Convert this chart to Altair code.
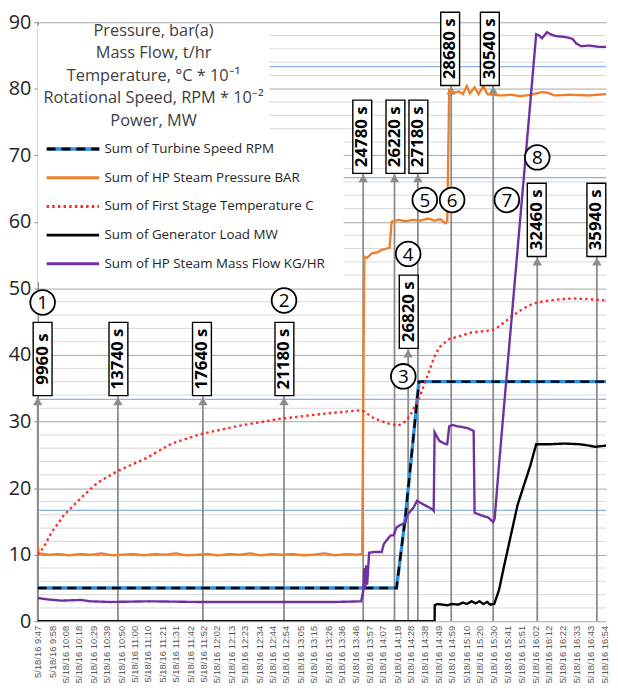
import altair as alt
import pandas as pd

# ---------------- values ----------------
x_labels = [
    "5/18/16 9:47", "5/18/16 9:58", "5/18/16 10:08", "5/18/16 10:18", "5/18/16 10:29",
    "5/18/16 10:39", "5/18/16 10:50", "5/18/16 11:00", "5/18/16 11:10", "5/18/16 11:21",
    "5/18/16 11:31", "5/18/16 11:42", "5/18/16 11:52", "5/18/16 12:02", "5/18/16 12:13",
    "5/18/16 12:23", "5/18/16 12:34", "5/18/16 12:44", "5/18/16 12:54", "5/18/16 13:05",
    "5/18/16 13:15", "5/18/16 13:26", "5/18/16 13:36", "5/18/16 13:46", "5/18/16 13:57",
    "5/18/16 14:07", "5/18/16 14:18", "5/18/16 14:28", "5/18/16 14:38", "5/18/16 14:49",
    "5/18/16 14:59", "5/18/16 15:10", "5/18/16 15:20", "5/18/16 15:30", "5/18/16 15:41",
    "5/18/16 15:51", "5/18/16 16:02", "5/18/16 16:12", "5/18/16 16:22", "5/18/16 16:33",
    "5/18/16 16:43", "5/18/16 16:54",
]
y_ticks = [0, 10, 20, 30, 40, 50, 60, 70, 80, 90]
title_lines = ["Pressure, bar(a)", "Mass Flow, t/hr", "Temperature, °C * 10⁻¹",
               "Rotational Speed, RPM * 10⁻²", "Power, MW"]

series_names = ["Sum of Turbine Speed RPM", "Sum of HP Steam Pressure BAR",
                "Sum of First Stage Temperature C", "Sum of Generator Load MW",
                "Sum of HP Steam Mass Flow KG/HR"]
series_colors = ["#000000", "#F07F2A", "#FF2B2B", "#000000", "#7030A0"]
series_dash = [[9, 6], [1, 0], [2.5, 3.2], [1, 0], [1, 0]]

# x = minutes after 9:47
ts_m = [0, 270.2, 276.8, 287.1, 428]
ts_v = [5.0, 5.0, 15.5, 36.0, 36.0]

pr_m = [0, 0.7, 8, 16, 24, 32, 40, 48, 56, 64, 72, 80, 88, 96, 104, 112, 120, 128, 136, 144,
        152, 160, 168, 176, 184, 192, 200, 208, 216, 224, 232, 240, 244.4,
        245.9, 248.1, 251.7, 255.4, 259.1, 262.8, 265.0, 266.5, 271.6, 276.8, 282.7, 288.5,
        293.7, 298.9, 303.3, 307.0, 308.4,
        309.9, 313.6, 317.3, 320.2, 323.2, 325.4, 329.0, 332.0, 335.7, 338.6, 343.0, 348.9,
        356.3, 363.6, 371.0, 379.8, 384.2, 389.4, 400.4, 415.2, 428]
pr_v = [11.5,
        10.2, 10.0, 10.1, 9.9, 10.1, 10.0, 10.2, 9.9,
        10.0, 10.1, 9.9, 10.1, 10.0, 10.2, 9.9, 10.0,
        10.1, 9.9, 10.1, 10.0, 10.2, 9.9, 10.1, 10.0,
        10.1, 9.9, 10.0, 10.2, 9.9, 10.1, 10.0, 10.1,
        54.8, 54.6, 55.3, 55.4, 55.8, 56.0, 56.1, 60.0, 60.3, 60.1, 60.3, 60.2,
        60.5, 60.2, 60.4, 59.8, 60.0,
        79.8, 79.4, 79.6, 79.2, 80.4, 79.3, 80.2, 79.2, 80.4, 79.2, 79.1, 79.0,
        79.1, 78.9, 79.1, 79.5, 79.4, 79.0, 79.1, 79.0, 79.2]

te_m = [0, 4.4, 10.3, 19.9, 32.4, 44.9, 60.4, 81.7, 100.8, 124.4,
        152.4, 181.8, 216.4, 242.9, 245.9, 253.2, 264.3, 271.6, 276.8, 280.5,
        284.1, 287.8, 291.5, 295.2, 298.9, 302.5, 309.9, 317.3, 326.8, 341.6,
        346.0, 351.1, 357.7, 363.6, 369.5, 376.2, 389.4, 402.7, 415.2, 428]
te_v = [10.0, 11.1, 13.3, 16.0, 18.5, 20.8, 22.6, 24.5, 26.7, 28.2,
        29.4, 30.4, 31.2, 31.7, 31.5, 30.5, 29.7, 29.4, 30.0, 30.9,
        32.3, 33.8, 35.8, 37.8, 39.8, 41.2, 42.4, 42.8, 43.4, 43.7,
        44.1, 44.9, 45.9, 46.7, 47.4, 47.9, 48.3, 48.5, 48.4, 48.2]

gl_m = [0, 298.9, 299.0, 301.1, 304.8, 308.4, 312.1, 316.5, 320.2, 323.2,
        326.8, 329.8, 332.7, 335.7, 338.6, 340.8, 343.8, 347.4, 351.1, 361.4,
        371.0, 375.4, 385.7, 396.8, 407.8, 415.2, 419.6, 428]
gl_v = [0.0, 0.0, 2.4, 2.6, 2.5, 2.4, 2.6, 2.5, 2.8, 2.6,
        3.0, 2.7, 3.0, 2.6, 2.9, 2.5, 2.6, 4.7, 8.2, 17.5,
        23.4, 26.6, 26.6, 26.7, 26.6, 26.4, 26.2, 26.4]

mf_m = [0, 6.6, 17.7, 32.4, 39.8, 54.5, 83.9, 120.7, 157.5, 194.3,
        223.8, 243.6, 245.1, 245.9, 246.6, 247.4, 248.1, 249.6, 253.2, 259.1,
        260.6, 265.7, 268.0, 270.2, 272.5, 276.8, 278.2, 279.7, 282.7, 284.1,
        285.6, 297.4, 298.2, 298.9, 302.5, 306.2, 308.4, 309.9, 312.1, 315.8,
        319.5, 323.9, 328.3, 329.0, 334.2, 339.3, 343.0, 344.1, 347.4, 355.5,
        363.6, 371.0, 375.4, 377.6, 379.8, 383.5, 387.2, 390.9, 396.8, 402.7,
        405.6, 409.3, 415.2, 422.5, 428]
mf_v = [3.5, 3.3, 3.1, 3.2, 3.0, 2.9, 3.0, 2.9, 2.9, 2.9,
        2.9, 3.0, 4.5, 8.0, 4.8, 8.4, 5.5, 10.3, 10.4, 10.4,
        11.6, 12.9, 12.9, 14.1, 14.4, 14.8, 15.9, 16.3, 17.0, 17.5,
        18.1, 16.8, 16.6, 28.4, 27.1, 26.7, 26.6, 29.3, 29.5, 29.3,
        29.2, 29.0, 28.6, 16.3, 15.9, 15.6, 14.9, 15.4, 23.5, 42.3,
        61.0, 78.0, 88.2, 88.0, 87.6, 88.5, 88.1, 87.9, 87.8, 87.5,
        86.8, 86.4, 86.5, 86.3, 86.3]

# reference lines (blue) and callouts
ref_lines = [16.67, 33.33, 66.67, 83.33]
ann_labels = ["9960 s", "13740 s", "17640 s", "21180 s", "24780 s", "26220 s",
              "26820 s", "27180 s", "28680 s", "30540 s", "32460 s", "35940 s"]
ann_arrow_m = [0, 60.4, 124.4, 185.5, 245.1, 268.7, 279.0, 286.3, 311.4, 343.0, 376.2, 421.1]
ann_box_m = [3.7, 60.8, 123.7, 185.8, 244.4, 269.4, 279.4, 286.7, 310.6, 340.5, 375.8, 420.7]
ann_box_v = [39.4, 39.4, 39.4, 39.4, 72.8, 72.8, 46.5, 72.8, 86.0, 86.0, 60.3, 60.3]
ann_tip_v = [33.8, 33.8, 33.8, 33.8, 67.3, 67.3, 41.0, 67.3, 80.5, 80.5, 54.8, 54.8]

circle_num = ["1", "2", "3", "4", "5", "6", "7", "8"]
circle_m = [3.7, 185.5, 275.3, 279.0, 291.5, 312.1, 353.3, 376.2]
circle_v = [47.9, 48.2, 36.8, 55.2, 63.3, 63.3, 63.3, 69.7]

# ---------------- tables ----------------
def to_min(lbl):
    hh, mm = lbl.split(" ")[1].split(":")
    return int(hh) * 60 + int(mm) - (9 * 60 + 47)

tick_min = [to_min(l) for l in x_labels]

frames = []
for name, ms, vs in zip(series_names, [ts_m, pr_m, te_m, gl_m, mf_m],
                        [ts_v, pr_v, te_v, gl_v, mf_v]):
    frames.append(pd.DataFrame({"series": name, "m": ms, "v": vs, "i": range(len(ms))}))
df = pd.concat(frames, ignore_index=True)
ts_df = pd.DataFrame({"m": ts_m, "v": ts_v, "under": "u", "i": range(len(ts_m))})

minor_df = pd.DataFrame({"v": [v for v in range(2, 90, 2) if v % 10]})
blue_df = pd.DataFrame({"v": ref_lines})
ann_df = pd.DataFrame({"label": ann_labels, "am": ann_arrow_m, "bm": ann_box_m,
                       "bv": ann_box_v, "tip": ann_tip_v})
circ_df = pd.DataFrame({"num": circle_num, "cm": circle_m, "cv": circle_v})
one = pd.DataFrame({"k": [0]})

# ---------------- scales / axes ----------------
xs = alt.Scale(domain=[0, 428], nice=False, zero=False)
ys = alt.Scale(domain=[0, 90], nice=False)

label_expr = ("'5/18/16 ' + floor((587 + datum.value) / 60) + ':' + "
              "(((587 + datum.value) % 60) < 10 ? '0' : '') + ((587 + datum.value) % 60)")
xaxis = alt.Axis(values=tick_min, labelExpr=label_expr, labelAngle=270,
                 labelFont="Liberation Sans", labelFontSize=9.5, labelColor="#595959",
                 labelPadding=4, labelOverlap=False, labelFlush=False, labelBound=False,
                 ticks=False, domain=False, grid=False, title=None)
yaxis = alt.Axis(values=y_ticks, grid=True, gridColor="#A6A6A6", gridWidth=1,
                 domainColor="#595959", domainWidth=1, tickColor="#8C8C8C", tickSize=4,
                 labelFont="Open Sans", labelFontSize=20, labelColor="#262626", labelPadding=3,
                 title=None)


def X(f):
    return alt.X(f, type="quantitative", scale=xs, axis=xaxis)


def Y(f):
    return alt.Y(f, type="quantitative", scale=ys, axis=yaxis)


main_legend = alt.Legend(title=None, orient="none", legendX=7.5, legendY=114.5,
                         symbolType="stroke", symbolSize=2809, symbolStrokeWidth=3,
                         clipHeight=27, rowPadding=2, padding=0,
                         labelFont="Open Sans", labelFontSize=13.5, labelColor="#262626",
                         labelOffset=4, labelLimit=400, zindex=1)
blue_legend = alt.Legend(title=None, orient="none", legendX=7.5, legendY=114.5,
                         symbolType="stroke", symbolSize=2809, symbolStrokeWidth=3.4,
                         symbolStrokeColor="#2F8FDD", clipHeight=27, padding=0,
                         labelExpr="''", zindex=0)

# ---------------- layers ----------------
minor = alt.Chart(minor_df).mark_rule(color="#D9D9D9", strokeWidth=1).encode(y=Y("v"))
blue = alt.Chart(blue_df).mark_rule(color="#8DB4E2", strokeWidth=1.3).encode(y=Y("v"))
title_bg = alt.Chart(one).mark_rect(fill="white").encode(
    x=alt.value(0), x2=alt.value(234), y=alt.value(3), y2=alt.value(110))
legend_bg = alt.Chart(one).mark_rect(fill="white").encode(
    x=alt.value(0), x2=alt.value(309), y=alt.value(110), y2=alt.value(262))
title_txt = alt.Chart(one).mark_text(
    lineBreak="\n", align="center", baseline="top", lineHeight=22.6, font="Open Sans",
    fontSize=16.5, color="#404040").encode(
    x=alt.value(117), y=alt.value(1), text=alt.value("\n".join(title_lines)))

arrows = alt.Chart(ann_df).transform_calculate(base="0").mark_rule(
    color="#8C8C8C", strokeWidth=1.8).encode(x=X("am"), y=Y("base"), y2="tip")
heads = alt.Chart(ann_df).mark_point(shape="triangle-up", filled=True, color="#8C8C8C",
                                     size=90, opacity=1, yOffset=5).encode(x=X("am"), y=Y("tip"))

under = alt.Chart(ts_df).mark_line(color="#2F8FDD", clip=True).encode(
    x=X("m"), y=Y("v"), order=alt.Order("i:Q"),
    strokeWidth=alt.StrokeWidth("under:O", scale=alt.Scale(range=[3.4, 3.4]),
                                legend=blue_legend))

lines = alt.Chart(df).mark_line(strokeWidth=2.4, clip=True).encode(
    x=X("m"), y=Y("v"),
    color=alt.Color("series:N", scale=alt.Scale(domain=series_names, range=series_colors),
                    legend=main_legend),
    strokeDash=alt.StrokeDash("series:N", scale=alt.Scale(domain=series_names, range=series_dash),
                              legend=main_legend),
    order=alt.Order("i:Q"))

boxes = alt.Chart(ann_df).transform_calculate(
    bx1="datum.bm - 7.1", bx2="datum.bm + 7.1", by1="datum.bv - 5.5", by2="datum.bv + 5.5"
).mark_rect(fill="white", stroke="black", strokeWidth=1.4).encode(
    x=X("bx1"), x2="bx2", y=Y("by1"), y2="by2")
box_text = alt.Chart(ann_df).mark_text(angle=270, font="Open Sans", fontSize=17,
                                       fontWeight="bold", color="black", align="center",
                                       baseline="middle").encode(
    x=X("bm"), y=Y("bv"), text="label:N")

circles = alt.Chart(circ_df).mark_point(shape="circle", size=620, filled=True, fill="white",
                                        stroke="black", strokeWidth=1.8, opacity=1).encode(
    x=X("cm"), y=Y("cv"))
circle_text = alt.Chart(circ_df).mark_text(font="Open Sans", fontSize=19, color="black",
                                           baseline="middle", dy=1).encode(
    x=X("cm"), y=Y("cv"), text="num:N")

chart = alt.layer(minor, blue, title_bg, legend_bg, title_txt, arrows, heads, under, lines,
                  boxes, box_text, circles, circle_text).properties(
    width=574, height=605, padding=0).configure_view(strokeWidth=0)

chart.save("out.html", embed_options={"renderer": "svg", "actions": False})
